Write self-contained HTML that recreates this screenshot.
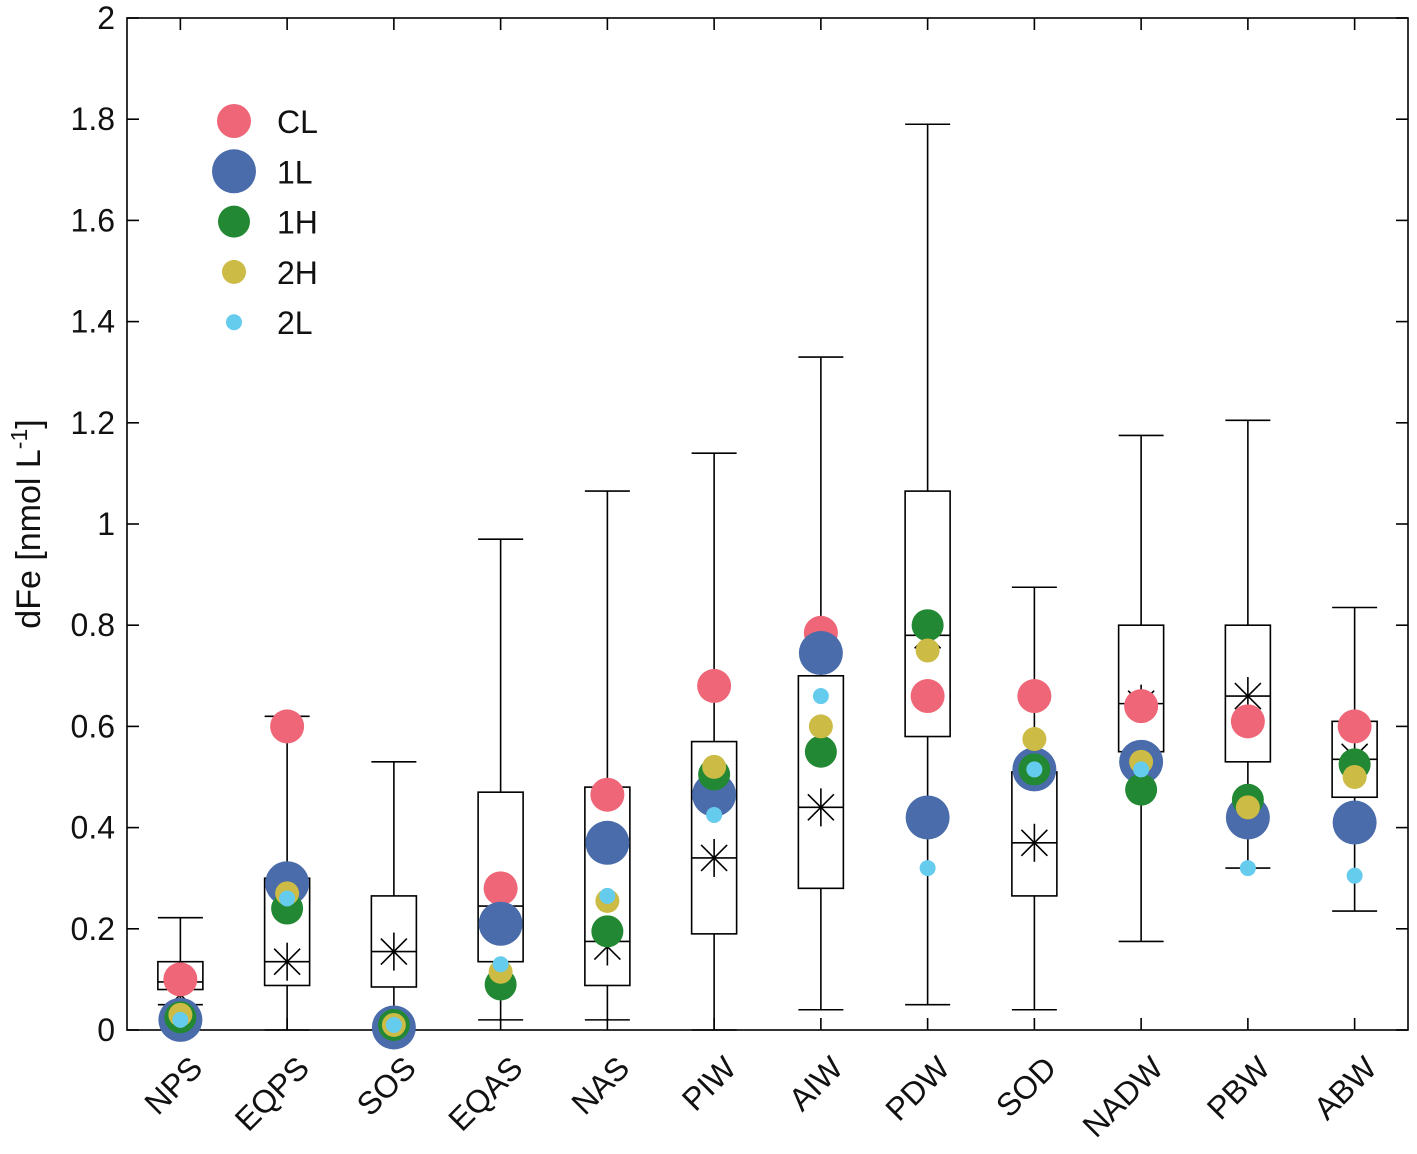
<!DOCTYPE html>
<html><head><meta charset="utf-8"><style>
body{margin:0;background:#fff}
svg text{font-family:"Liberation Sans",Arial,sans-serif;fill:#111}
</style></head><body>
<svg id="chart" width="1417" height="1149" xmlns="http://www.w3.org/2000/svg"></svg>
<script>
const categories=["NPS","EQPS","SOS","EQAS","NAS","PIW","AIW","PDW","SOD","NADW","PBW","ABW"];
const whiskerLow=[0.05,0,0,0.02,0.02,0,0.04,0.05,0.04,0.175,0.32,0.235];
const q1=[0.08,0.088,0.085,0.135,0.088,0.19,0.28,0.58,0.265,0.55,0.53,0.46];
const median=[0.095,0.135,0.155,0.245,0.175,0.34,0.44,0.78,0.37,0.645,0.66,0.535];
const q3=[0.135,0.30,0.265,0.47,0.48,0.57,0.70,1.065,0.51,0.80,0.80,0.61];
const whiskerHigh=[0.222,0.62,0.53,0.97,1.065,1.14,1.33,1.79,0.875,1.175,1.205,0.835];
const meanVals=[0.07,0.135,0.155,0.24,0.165,0.34,0.44,0.78,0.37,0.645,0.66,0.54];
const seriesCL=[0.10,0.60,0.005,0.28,0.465,0.68,0.785,0.66,0.66,0.64,0.61,0.60];
const series1L=[0.02,0.29,0.005,0.21,0.37,0.465,0.745,0.42,0.515,0.53,0.42,0.41];
const series1H=[0.025,0.24,0.01,0.09,0.195,0.505,0.55,0.80,0.515,0.475,0.455,0.525];
const series2H=[0.03,0.27,0.01,0.115,0.255,0.52,0.60,0.75,0.575,0.53,0.44,0.50];
const series2L=[0.02,0.26,0.01,0.13,0.265,0.425,0.66,0.32,0.515,0.515,0.32,0.305];
const yTicks=[0,0.2,0.4,0.6,0.8,1,1.2,1.4,1.6,1.8,2];
const yTickLabels=["0","0.2","0.4","0.6","0.8","1","1.2","1.4","1.6","1.8","2"];

const L=127,R=1408,T=18,B=1030;
const svg=document.getElementById('chart');
const NS="http://www.w3.org/2000/svg";
const bw=(R-L)/categories.length;
function xs(i){return L+bw*(i+0.5);}
function ys(v){return B-(v/2)*(B-T);}
function mk(tag,attrs,parent){const e=document.createElementNS(NS,tag);for(const k in attrs)e.setAttribute(k,attrs[k]);(parent||svg).appendChild(e);return e;}
const ln={stroke:"#000","stroke-width":1.6,fill:"none"};
function line(x1,y1,x2,y2,name,p){const e=mk('line',Object.assign({x1,y1,x2,y2},ln),p);

return e;}

const frame=mk('rect',{x:L,y:T,width:R-L,height:B-T,fill:"none",stroke:"#000","stroke-width":1.6});


yTicks.forEach((v,i)=>{const y=ys(v);
line(L,y,L+12,y,'y-tick');line(R,y,R-12,y,'y-tick-right');
const t=mk('text',{x:L-12,y:y+11,"text-anchor":"end","font-size":32});t.textContent=yTickLabels[i];

});
const yt=mk('text',{x:40,y:524,"text-anchor":"middle","font-size":34,transform:"rotate(-90 40 524)"});
yt.innerHTML='dFe [nmol L<tspan dy="-13" font-size="23">-1</tspan><tspan dy="13">]</tspan>';


categories.forEach((c,i)=>{const x=xs(i);
line(x,B,x,B-12,'x-tick');line(x,T,x,T+12,'x-tick-top');
const t=mk('text',{x:x+24,y:B+40,"text-anchor":"end","font-size":32,transform:`rotate(-45 ${x+24} ${B+40})`});t.textContent=c;


const g=mk('g',{});


const hw=22.5,cw=22.5;
line(x,ys(whiskerHigh[i]),x,ys(q3[i]),'whisker-upper',g);
line(x,ys(q1[i]),x,ys(whiskerLow[i]),'whisker-lower',g);
line(x-cw,ys(whiskerHigh[i]),x+cw,ys(whiskerHigh[i]),'whisker-cap',g);
line(x-cw,ys(whiskerLow[i]),x+cw,ys(whiskerLow[i]),'whisker-cap',g);
const r=mk('rect',Object.assign({x:x-hw,y:ys(q3[i]),width:2*hw,height:ys(q1[i])-ys(q3[i])},ln),g);


line(x-hw,ys(median[i]),x+hw,ys(median[i]),'median-line',g);
const my=ys(meanVals[i]),s=19,d=13;
line(x,my-s,x,my+s,'mean-marker',g);line(x-d,my-d,x+d,my+d,'mean-marker',g);line(x-d,my+d,x+d,my-d,'mean-marker',g);
});
const series=[["cl",seriesCL,"#ee6677",17],["1l",series1L,"#4a6cab",22],["1h",series1H,"#228833",16],["2h",series2H,"#ccbb44",12],["2l",series2L,"#66ccee",8]];
series.forEach(([n,arr,col,r])=>{arr.forEach((v,i)=>{
const c=mk('circle',{cx:xs(i),cy:ys(v),r,fill:col});

});});
const legLabels=["CL","1L","1H","2H","2L"];
series.forEach(([n,arr,col,r],k)=>{const y=121+k*50.3;
const c=mk('circle',{cx:234,cy:y,r,fill:col});


const t=mk('text',{x:277,y:y+12,"font-size":32});t.textContent=legLabels[k];

});
</script>
</body></html>
